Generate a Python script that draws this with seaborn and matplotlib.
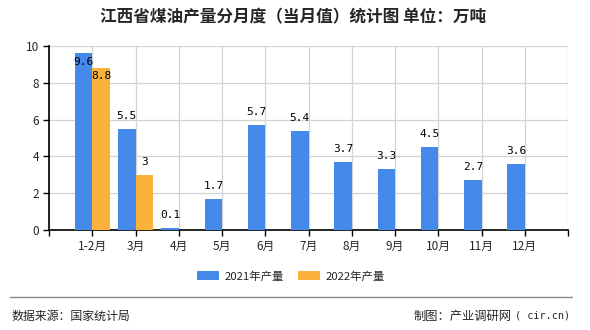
import matplotlib
matplotlib.use("Agg")
import matplotlib.pyplot as plt
import seaborn as sns
import pandas as pd
from matplotlib.patches import Patch
from matplotlib.lines import Line2D

months = ["1-2月", "3月", "4月", "5月", "6月", "7月", "8月", "9月", "10月", "11月", "12月"]
v2021 = [9.6, 5.5, 0.1, 1.7, 5.7, 5.4, 3.7, 3.3, 4.5, 2.7, 3.6]
v2022 = [8.8, 3.0, None, None, None, None, None, None, None, None, None]
series = ["2021年产量", "2022年产量"]
colors = ["#4589EA", "#FBB23D"]
yticks = [0, 2, 4, 6, 8, 10]

rows = []
for m, a, b in zip(months, v2021, v2022):
    rows.append({"month": m, "series": series[0], "value": a})
    rows.append({"month": m, "series": series[1], "value": b})
df = pd.DataFrame(rows)

sns.set_theme(style="white")
plt.rcParams["font.family"] = ["Noto Sans CJK SC", "DejaVu Sans"]

fig = plt.figure(figsize=(5.9, 3.3), dpi=100)
ax = fig.add_axes([49/590, 1-230/330, (568-49)/590, (230-46)/330])

sns.barplot(data=df, x="month", y="value", hue="series", order=months,
            hue_order=series, palette=colors, width=0.8, saturation=1,
            linewidth=0, edgecolor="none", ax=ax, legend=False, zorder=3)

ax.set_xlim(-1, 11)
ax.set_ylim(0, 10)
ax.set_yticks(yticks)
ax.set_xticks(range(-1, 12))
ax.set_xticklabels([""] + months + [""])
ax.set_xlabel("")
ax.set_ylabel("")
ax.grid(True, color="#d3d3d3", linewidth=0.9, zorder=0)
ax.set_axisbelow(True)
for s in ["top", "right"]:
    ax.spines[s].set_visible(False)
for s in ["left", "bottom"]:
    ax.spines[s].set_color("black")
    ax.spines[s].set_linewidth(1.2)
ax.tick_params(axis="both", length=4, width=1, color="black", labelsize=8.5,
               left=True, bottom=True, pad=3)

mono = ["DejaVu Sans Mono", "Noto Sans CJK SC"]
for cont in ax.containers:
    for p in cont:
        h = p.get_height()
        if h is None or h != h or h == 0:
            continue
        x = p.get_x() + p.get_width() / 2
        txt = f"{h:g}"
        if h > 8:
            ax.text(x, h - 0.45, txt, ha="center", va="center", fontsize=8,
                    family=mono, color="black", zorder=5)
        else:
            ax.text(x, h + 0.7, txt, ha="center", va="center", fontsize=8,
                    family=mono, color="black", zorder=5)

fig.text(293/590, 1-17/330, "江西省煤油产量分月度（当月值）统计图 单位：万吨",
         ha="center", va="center", fontsize=12, fontweight="bold")

handles = [Patch(facecolor=c, edgecolor="none") for c in colors]
fig.legend(handles, series, loc="center", bbox_to_anchor=(291/590, 1-276/330),
           ncol=2, frameon=False, fontsize=8.2, handlelength=1.9, handleheight=0.75,
           columnspacing=1.3, handletextpad=0.5)

fig.add_artist(Line2D([10/590, 572/590], [1-297/330, 1-297/330],
                      color="#888888", linewidth=1, transform=fig.transFigure))
fig.text(12/590, 1-316/330, "数据来源：国家统计局", ha="left", va="center", fontsize=8.6)
fig.text(511/590, 1-316/330, "制图：产业调研网", ha="right", va="center", fontsize=8.8)
fig.text(570/590, 1-316/330, "( cir.cn)", ha="right", va="center", fontsize=7.3,
         family=mono)

fig.savefig("out.png", dpi=100)
